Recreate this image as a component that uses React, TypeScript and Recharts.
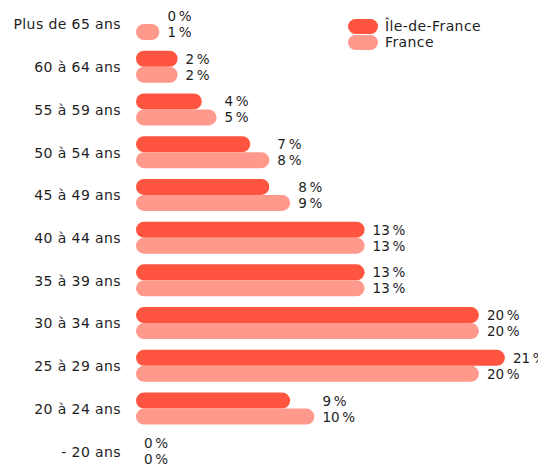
import { BarChart, Bar, XAxis, YAxis, Legend, LabelList } from "recharts";

// tranches d'âge, du haut vers le bas
const categories = [
  "Plus de 65 ans",
  "60 à 64 ans",
  "55 à 59 ans",
  "50 à 54 ans",
  "45 à 49 ans",
  "40 à 44 ans",
  "35 à 39 ans",
  "30 à 34 ans",
  "25 à 29 ans",
  "20 à 24 ans",
  "- 20 ans",
];

// parts en %
const idfValues = [0, 2.4, 3.8, 6.6, 7.7, 13.2, 13.2, 19.8, 21.3, 8.9, 0];
const franceValues = [1.35, 2.4, 4.65, 7.7, 8.9, 13.2, 13.2, 19.8, 19.8, 10.3, 0];

const seriesNames = ["Île-de-France", "France"];
const colors = ["#FF5440", "#FF998C"];

const data = categories.map((name, i) => ({
  name,
  idf: idfValues[i],
  france: franceValues[i],
}));

const FONT = "'DejaVu Sans', sans-serif";
const TEXT = "#1e1e1e";

const fmt = (v: number) => Math.round(v) + "\u202f%";

// both labels of a row are drawn from the France bar geometry
const renderLabels = (props: any) => {
  const vb = props.viewBox || {};
  const x = props.x ?? vb.x;
  const y = props.y ?? vb.y;
  const width = Number(props.width ?? vb.width) || 0;
  const height = Number(props.height ?? vb.height) || 16;
  const { index } = props;
  const fr = franceValues[index];
  const other = idfValues[index];
  const perUnit = fr > 0 ? width / fr : 0;
  const frEnd = fr > 0 ? x + width : x;
  const idfEnd = x + perUnit * Math.max(fr, other);
  const common = {
    fontSize: 13.5,
    fontFamily: FONT,
    fill: TEXT,
    dominantBaseline: "central" as const,
    letterSpacing: 0.3,
  };
  return (
    <g>
      <text x={idfEnd + 8} y={y - height / 2} {...common}>
        {fmt(other)}
      </text>
      <text x={frEnd + 8} y={y + height / 2} {...common}>
        {fmt(fr)}
      </text>
    </g>
  );
};

const renderLegend = () => (
  <div style={{ fontFamily: FONT, fontSize: 14, color: TEXT, letterSpacing: 0.4 }}>
    {seriesNames.map((n, i) => (
      <div key={n} style={{ display: "flex", alignItems: "center", height: 16 }}>
        <span
          style={{
            display: "inline-block",
            width: 30,
            height: 15,
            borderRadius: 8,
            background: colors[i],
            marginRight: 7,
          }}
        />
        <span style={{ lineHeight: "16px" }}>{n}</span>
      </div>
    ))}
  </div>
);

export default function App() {
  return (
    <div
      style={{
        position: "fixed",
        top: 0,
        left: 0,
        width: 538,
        height: 464,
        overflow: "hidden",
        background: "#fff",
      }}
    >
      <BarChart
        width={538}
        height={480}
        data={data}
        layout="vertical"
        margin={{ top: 3, right: 21, left: 0, bottom: 7 }}
        barSize={16}
        barGap={0}
      >
        <XAxis type="number" domain={[0, 22]} hide />
        <YAxis
          type="category"
          dataKey="name"
          width={136}
          axisLine={false}
          tickLine={false}
          tickMargin={9}
          interval={0}
          tick={{ fontSize: 14, fill: TEXT, fontFamily: FONT, letterSpacing: 0.4 }}
        />
        <Legend
          layout="vertical"
          align="center"
          verticalAlign="middle"
          content={renderLegend}
          wrapperStyle={{ top: 18, left: 348, width: "auto" }}
        />
        <Bar
          dataKey="idf"
          name={seriesNames[0]}
          fill={colors[0]}
          radius={8}
          isAnimationActive={false}
        />
        <Bar
          dataKey="france"
          name={seriesNames[1]}
          fill={colors[1]}
          radius={8}
          minPointSize={0.001}
          isAnimationActive={false}
        >
          <LabelList dataKey="france" content={renderLabels} />
        </Bar>
      </BarChart>
    </div>
  );
}
